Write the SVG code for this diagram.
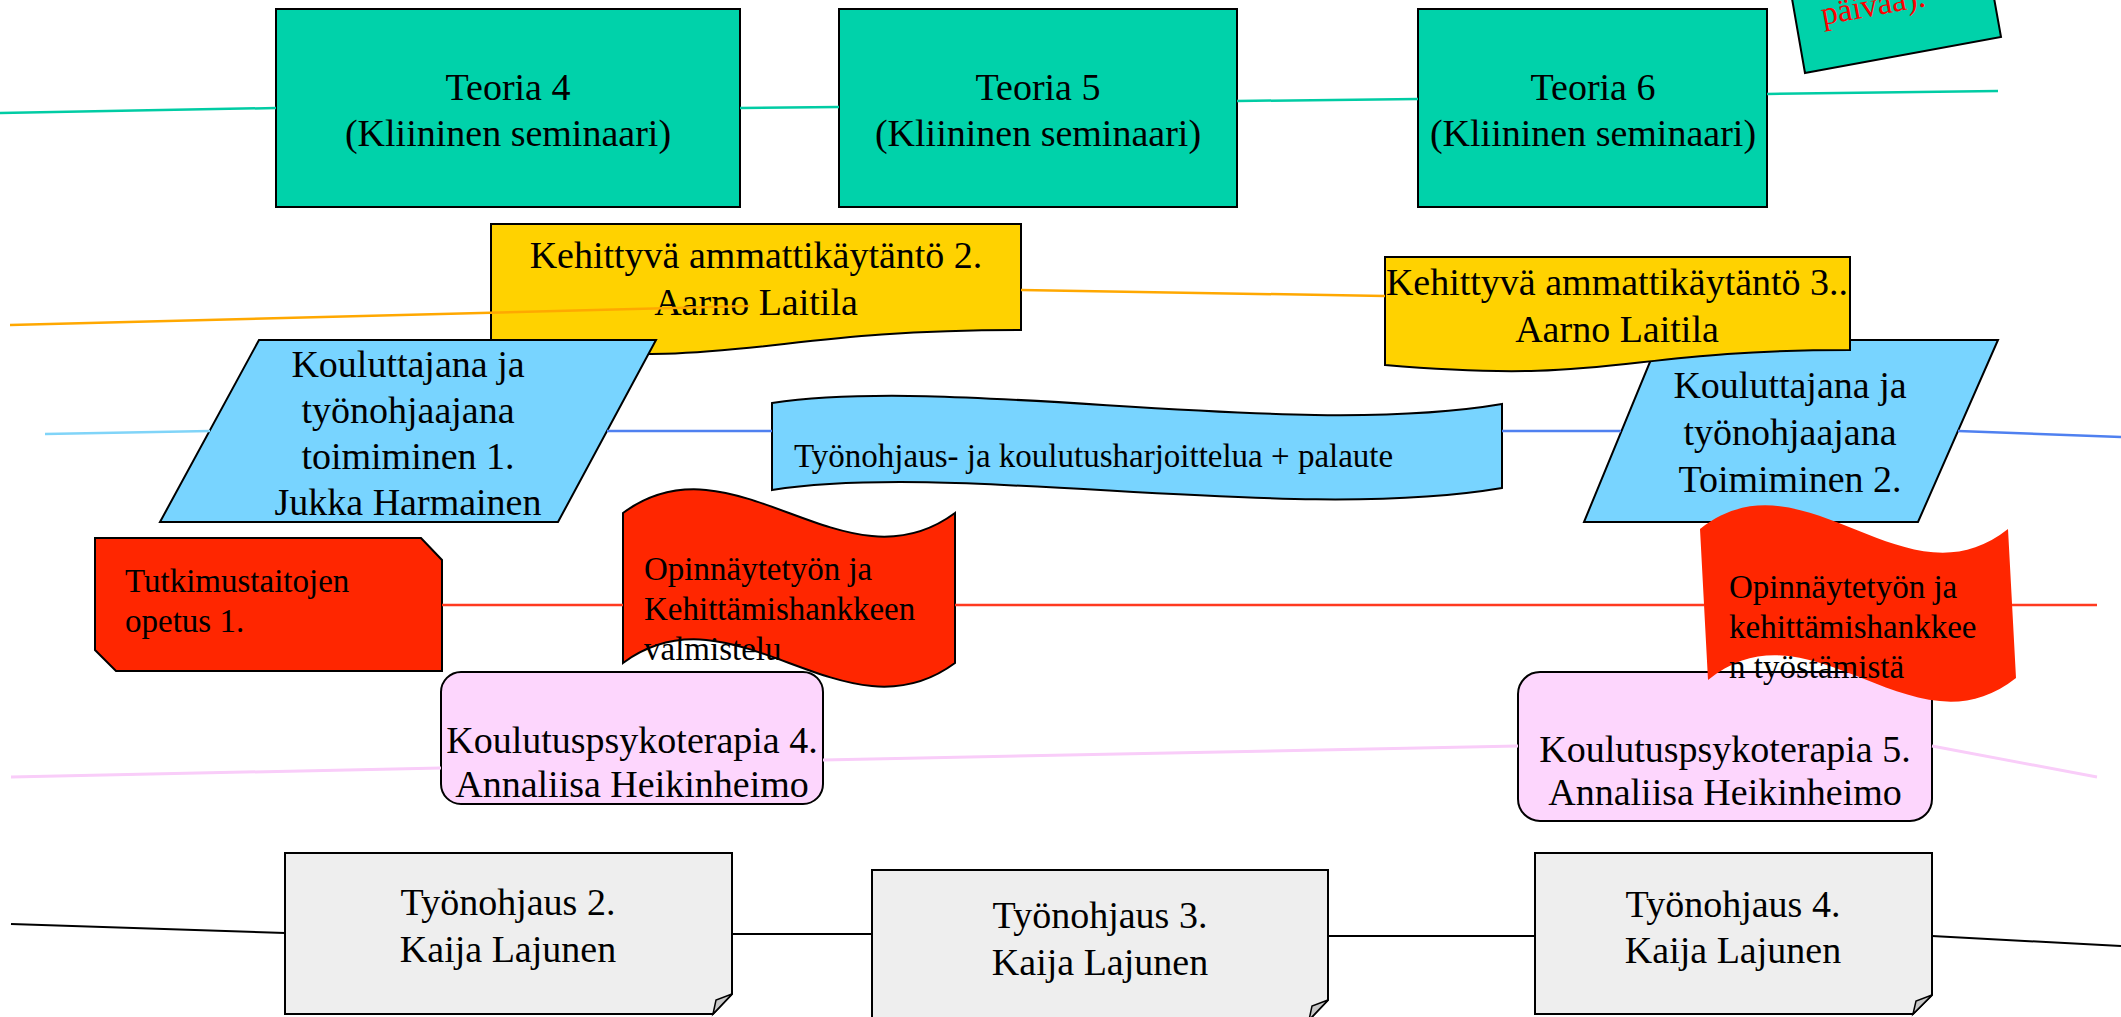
<svg xmlns="http://www.w3.org/2000/svg" width="2121" height="1017" viewBox="0 0 2121 1017">
<style>
  .txt { font-family: "Liberation Serif", "Times New Roman", serif; fill: #000; }
  .f38 { font-size: 38px; }
  .f33 { font-size: 33px; }
  .mid { text-anchor: middle; }
  .stk { stroke: #000; stroke-width: 2; stroke-linejoin: miter; }
  .teal { fill: #00d2aa; }
  .yellow { fill: #ffd200; }
  .blue { fill: #78d4ff; }
  .red { fill: #ff2600; }
  .pink { fill: #fdd6fd; }
  .gray { fill: #eeeeee; }
  .fold { fill: #c8c8c8; stroke: #000; stroke-width: 1.5; }
  .ln { fill: none; stroke-width: 2.5; stroke-linecap: butt; }
</style>
<rect x="0" y="0" width="2121" height="1017" fill="#ffffff"/>

<g id="teoria4">
  <rect class="teal stk" x="276" y="9" width="464" height="198"/>
  <text class="txt f38 mid" x="508" y="100">Teoria 4</text>
  <text class="txt f38 mid" x="508" y="146">(Kliininen seminaari)</text>
</g>
<g id="teoria5">
  <rect class="teal stk" x="839" y="9" width="398" height="198"/>
  <text class="txt f38 mid" x="1038" y="100">Teoria 5</text>
  <text class="txt f38 mid" x="1038" y="146">(Kliininen seminaari)</text>
</g>
<g id="teoria6">
  <rect class="teal stk" x="1418" y="9" width="349" height="198"/>
  <text class="txt f38 mid" x="1593" y="100">Teoria 6</text>
  <text class="txt f38 mid" x="1593" y="146">(Kliininen seminaari)</text>
</g>
<g id="note-topright">
  <polygon class="teal stk" points="1805,73 2001,37 1989,-30 1787,-30"/>
  <text class="txt f33" x="1823" y="25" style="fill:#ff0000" transform="rotate(-10.4 1823 25)">päivää).</text>
</g>

<g id="kehittyva2">
  <path class="yellow stk" d="M491,224 H1021 V330 C756,330 756,370 491,347 Z"/>
  <text class="txt f38 mid" x="756" y="268">Kehittyvä ammattikäytäntö 2.</text>
  <text class="txt f38 mid" x="756" y="315">Aarno Laitila</text>
</g>

<g id="kouluttajana1">
  <polygon class="blue stk" points="259,340 656,340 558,522 160,522"/>
  <text class="txt f38 mid" x="408" y="377">Kouluttajana ja</text>
  <text class="txt f38 mid" x="408" y="423">työnohjaajana</text>
  <text class="txt f38 mid" x="408" y="469">toimiminen 1.</text>
  <text class="txt f38 mid" x="408" y="515">Jukka Harmainen</text>
</g>
<g id="harjoittelu">
  <path class="blue stk" d="M772,403 C960,375 1290,440 1502,404 L1502,488 C1290,524 960,461 772,490 Z"/>
  <text class="txt f33" x="794" y="467">Työnohjaus- ja koulutusharjoittelua + palaute</text>
</g>
<g id="kouluttajana2">
  <polygon class="blue stk" points="1659,340 1998,340 1918,522 1584,522"/>
  <text class="txt f38 mid" x="1790" y="398">Kouluttajana ja</text>
  <text class="txt f38 mid" x="1790" y="445">työnohjaajana</text>
  <text class="txt f38 mid" x="1790" y="492">Toimiminen 2.</text>
</g>
<g id="kehittyva3">
  <path class="yellow stk" d="M1385,257 H1850 V350 C1617,350 1617,385 1385,365 Z"/>
  <text class="txt f38 mid" x="1617" y="295">Kehittyvä ammattikäytäntö 3..</text>
  <text class="txt f38 mid" x="1617" y="342">Aarno Laitila</text>
</g>

<g id="tutkimustaidot">
  <polygon class="red stk" points="95,538 421,538 442,560 442,671 116,671 95,650"/>
  <text class="txt f33" x="125" y="592">Tutkimustaitojen</text>
  <text class="txt f33" x="125" y="632">opetus 1.</text>
</g>

<g id="koulutuspsykoterapia4">
  <rect class="pink stk" x="441" y="672" width="382" height="132" rx="20" ry="20"/>
  <text class="txt f38 mid" x="632" y="753">Koulutuspsykoterapia 4.</text>
  <text class="txt f38 mid" x="632" y="797">Annaliisa Heikinheimo</text>
</g>
<g id="koulutuspsykoterapia5">
  <rect class="pink stk" x="1518" y="672" width="414" height="149" rx="22" ry="22"/>
  <text class="txt f38 mid" x="1725" y="762">Koulutuspsykoterapia 5.</text>
  <text class="txt f38 mid" x="1725" y="805">Annaliisa Heikinheimo</text>
</g>

<g id="opinnayte1">
  <path class="red stk" d="M623,513 C734,431 844,595 955,513 L955,663 C844,745 734,581 623,663 Z"/>
  <text class="txt f33" x="644" y="580">Opinnäytetyön ja</text>
  <text class="txt f33" x="644" y="620">Kehittämishankkeen</text>
  <text class="txt f33" x="644" y="660">valmistelu</text>
</g>
<g id="opinnayte2">
  <path class="red" d="M1700,529 C1803,447 1905,611 2008,529 L2016,678 C1913,760 1811,596 1708,680 Z"/>
  <text class="txt f33" x="1729" y="598">Opinnäytetyön ja</text>
  <text class="txt f33" x="1729" y="638">kehittämishankkee</text>
  <text class="txt f33" x="1729" y="678">n työstämistä</text>
</g>

<g id="tyonohjaus2">
  <path class="gray stk" d="M285,853 H732 V994 L713,1014 H285 Z"/>
  <path class="fold" d="M713,1014 L716,1000 L732,994 Z"/>
  <text class="txt f38 mid" x="508" y="915">Työnohjaus 2.</text>
  <text class="txt f38 mid" x="508" y="962">Kaija Lajunen</text>
</g>
<g id="tyonohjaus3">
  <path class="gray stk" d="M872,870 H1328 V1000 L1309,1020 H872 Z"/>
  <path class="fold" d="M1309,1020 L1312,1006 L1328,1000 Z"/>
  <text class="txt f38 mid" x="1100" y="928">Työnohjaus 3.</text>
  <text class="txt f38 mid" x="1100" y="975">Kaija Lajunen</text>
</g>
<g id="tyonohjaus4">
  <path class="gray stk" d="M1535,853 H1932 V995 L1913,1014 H1535 Z"/>
  <path class="fold" d="M1913,1014 L1916,1001 L1932,995 Z"/>
  <text class="txt f38 mid" x="1733" y="917">Työnohjaus 4.</text>
  <text class="txt f38 mid" x="1733" y="963">Kaija Lajunen</text>
</g>

<g id="connectors">
  <g stroke="#00cca4" class="ln">
    <line x1="0" y1="113" x2="276" y2="108"/>
    <line x1="740" y1="108" x2="839" y2="107"/>
    <line x1="1237" y1="101" x2="1418" y2="99"/>
    <line x1="1767" y1="94" x2="1998" y2="91"/>
  </g>
  <g stroke="#ffa800" class="ln">
    <line x1="10" y1="325" x2="750" y2="306"/>
    <line x1="1021" y1="290" x2="1385" y2="296"/>
  </g>
  <g class="ln">
    <line x1="45" y1="434" x2="210" y2="431" stroke="#80d4f8"/>
    <line x1="607" y1="431" x2="772" y2="431" stroke="#4f80f0"/>
    <line x1="1502" y1="431" x2="1621" y2="431" stroke="#4f80f0"/>
    <line x1="1958" y1="431" x2="2121" y2="437" stroke="#4f80f0"/>
  </g>
  <g stroke="#ff3a20" class="ln">
    <line x1="442" y1="605" x2="623" y2="605"/>
    <line x1="955" y1="605" x2="1704" y2="605"/>
    <line x1="2012" y1="605" x2="2097" y2="605"/>
  </g>
  <g stroke="#f9cdf9" class="ln" style="stroke-width:3">
    <line x1="11" y1="777" x2="441" y2="768"/>
    <line x1="823" y1="760" x2="1518" y2="746"/>
    <line x1="1932" y1="746" x2="2097" y2="777"/>
  </g>
  <g stroke="#000000" class="ln" style="stroke-width:2">
    <line x1="11" y1="924" x2="285" y2="933"/>
    <line x1="732" y1="934" x2="872" y2="934"/>
    <line x1="1328" y1="936" x2="1535" y2="936"/>
    <line x1="1932" y1="936" x2="2121" y2="946"/>
  </g>
</g>
</svg>
